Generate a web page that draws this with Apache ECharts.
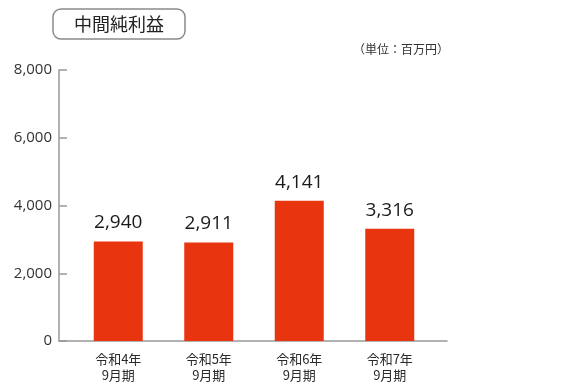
<!DOCTYPE html>
<html><head><meta charset="utf-8">
<script src="https://cdn.jsdelivr.net/npm/echarts@6/dist/echarts.min.js"></script>
<style>html,body{margin:0;padding:0;background:#fff}#c{width:577px;height:391px}</style>
</head><body><div id="c"></div>
<script>
var categories = ['令和4年\n9月期', '令和5年\n9月期', '令和6年\n9月期', '令和7年\n9月期'];
var values = [2940, 2911, 4141, 3316];
var yTicks = [0, 2000, 4000, 6000, 8000];
var titleText = '中間純利益';
var unitText = '（単位：百万円）';

function fmt(n){ return String(n).replace(/\B(?=(\d{3})+(?!\d))/g, ','); }
var FONT = '"Noto Sans CJK JP", "Noto Sans", sans-serif';
var NUMFONT = '"Open Sans", "Noto Sans", sans-serif';
var chart = echarts.init(document.getElementById('c'), null, {renderer:'canvas'});
chart.setOption({
  animation: false,
  title: [{
    text: titleText, left: 53, top: 9,
    padding: [6, 21, 6, 21],
    borderColor: '#8a8a8a', borderWidth: 1.5, borderRadius: 8,
    textStyle: {fontFamily: FONT, fontSize: 18, fontWeight: 'normal', color: '#222'}
  },{
    text: unitText, right: 128, top: 43, padding: 0,
    textStyle: {fontFamily: FONT, fontSize: 12, fontWeight: 'normal', color: '#333'}
  }],
  grid: [
    {left: 59, right: 130, top: 70, bottom: 50},
    {left: 73, right: 142, top: 70, bottom: 50}
  ],
  xAxis: [{
    gridIndex: 0, type: 'category', data: categories,
    axisLine: {show: true, lineStyle: {color: '#999', width: 1.5}},
    axisTick: {show: false}, axisLabel: {show: false}, splitLine: {show: false}
  },{
    gridIndex: 1, type: 'category', data: categories,
    axisLine: {show: false}, axisTick: {show: false},
    axisLabel: {margin: 10, fontFamily: FONT, fontSize: 13, color: '#2a2a2a', lineHeight: 16}
  }],
  yAxis: [{
    gridIndex: 0, type: 'value', min: yTicks[0], max: yTicks[yTicks.length-1], interval: 2000,
    axisLine: {show: true, lineStyle: {color: '#999', width: 1.5}},
    axisTick: {show: true, inside: true, length: 8, lineStyle: {color: '#999', width: 1.5}},
    splitLine: {show: false},
    axisLabel: {margin: 7, fontFamily: NUMFONT, fontSize: 15, color: '#333', formatter: function(v){return fmt(v);}}
  },{
    gridIndex: 1, type: 'value', min: yTicks[0], max: yTicks[yTicks.length-1], show: false
  }],
  series: [{
    type: 'bar', xAxisIndex: 1, yAxisIndex: 1, data: values, barWidth: 49,
    itemStyle: {color: '#e8340f'},
    label: {show: true, position: 'top', distance: 9, fontFamily: NUMFONT, fontSize: 19, color: '#1a1a1a',
      formatter: function(p){return fmt(p.value);}}
  }]
});
</script></body></html>
